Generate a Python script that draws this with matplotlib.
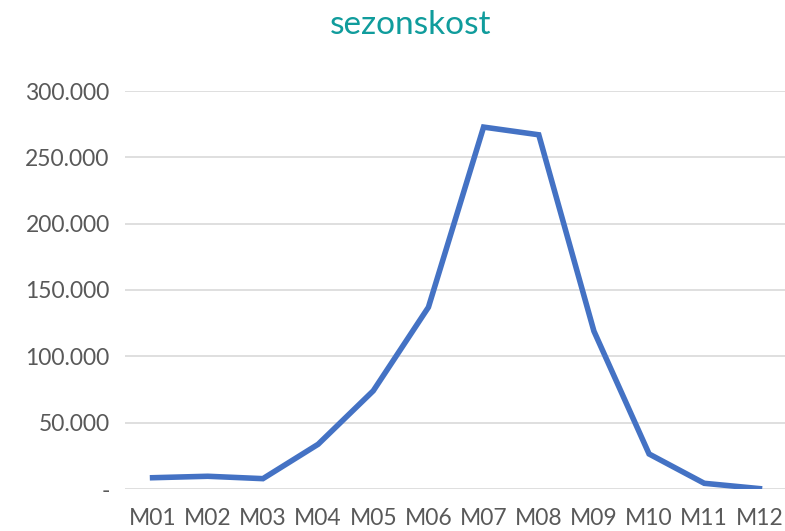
import matplotlib
matplotlib.use("Agg")
import matplotlib.pyplot as plt
from matplotlib.ticker import FixedLocator

months = ["M01", "M02", "M03", "M04", "M05", "M06", "M07", "M08", "M09", "M10", "M11", "M12"]
values = [8500, 9600, 7800, 33700, 74000, 137000, 272800, 267000, 119000, 26400, 4300, 300]
yticks = [0, 50000, 100000, 150000, 200000, 250000, 300000]
ytick_labels = ["-", "50.000", "100.000", "150.000", "200.000", "250.000", "300.000"]

plt.rcParams['font.family'] = ['Lato', 'DejaVu Sans']

fig = plt.figure(figsize=(7.85, 5.31), dpi=100)
ax = fig.add_axes([125/785, 1 - 489/531, 662/785, (489 - 91)/531])

x = list(range(len(months)))
ax.plot(x, values, color="#4472C4", linewidth=4.0, solid_joinstyle="miter", zorder=3)

ax.set_xlim(-0.5, len(months) - 0.5)
ax.set_ylim(0, 300000)
ax.yaxis.set_major_locator(FixedLocator(yticks))
ax.set_yticklabels(ytick_labels)
ax.set_xticks(x)
ax.set_xticklabels(months)

ax.grid(axis="y", color="#D9D9D9", linewidth=1.2)
ax.set_axisbelow(True)
for s in ax.spines.values():
    s.set_visible(False)
ax.tick_params(axis="both", length=0, labelsize=16.5, labelcolor="#595959")
ax.tick_params(axis="y", pad=11)
ax.tick_params(axis="x", pad=14)

fig.text(411/785, 1 - 25/531, "sezonskost", ha="center", va="center", fontsize=24, color="#109C9C")

fig.savefig("out.png", dpi=100)
